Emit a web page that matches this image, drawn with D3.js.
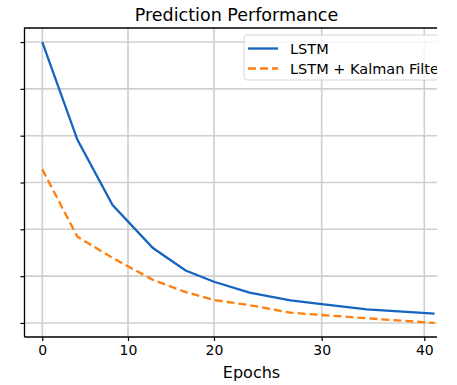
<!DOCTYPE html>
<meta charset="utf-8">
<style>
body { margin: 0; background: #fff; }
text { font-family: "DejaVu Sans", sans-serif; fill: #000; }
.grid line { stroke: #cfcfcf; stroke-width: 1.6px; }
.axis path { display: none; }
.axis line { stroke: #000; stroke-width: 1.2px; }
.axis text { font-size: 14px; }
.spine { stroke: #000; stroke-width: 1.3px; fill: none; }
.line { fill: none; stroke-width: 2.3px; }
</style>
<svg class="chart" width="457" height="385"></svg>
<script src="https://cdn.jsdelivr.net/npm/d3@7"></script>
<script>
// data (y in tick units, ticks unlabeled)
var epochs = [0, 4.1, 8.2, 12.9, 16.7, 20, 23.3, 27.1, 30, 34.4, 41];
var lstm   = [6.0, 3.91, 2.52, 1.60, 1.12, 0.88, 0.65, 0.48, 0.40, 0.29, 0.20];
var kalman = [3.28, 1.84, 1.39, 0.92, 0.66, 0.49, 0.38, 0.22, 0.17, 0.10, 0.0];
var xTicks = [0, 10, 20, 30, 40];
var yTicks = [0, 1, 2, 3, 4, 5, 6];
var seriesNames = ["LSTM", "LSTM + Kalman Filter"];
var colors = ["#1565c0", "#ff7f0e"];

var svg = d3.select(".chart");
var pLeft = 24.5, pRight = 437, pTop = 28, pBottom = 337;

// the grid in the picture is not evenly spaced, so map through each tick
var x = d3.scaleLinear()
    .domain([-2.08, 0, 10, 20, 30, 40, 41.2])
    .range([pLeft, 42.3, 128, 214, 321.7, 424.3, 436.6]);
var y = d3.scaleLinear().domain([-0.3, 6.3]).range([pBottom, pTop]);

svg.append("defs").append("clipPath").attr("id", "clip")
  .append("rect").attr("x", 0).attr("y", 0).attr("width", pRight).attr("height", 385);

var g = svg.append("g").attr("clip-path", "url(#clip)");

// grid
var grid = g.append("g").attr("class", "grid");
grid.selectAll(".gx").data(xTicks).enter().append("line")
    .attr("x1", d => x(d)).attr("x2", d => x(d))
    .attr("y1", pTop).attr("y2", pBottom);
grid.selectAll(".gy").data(yTicks).enter().append("line")
    .attr("x1", pLeft).attr("x2", pRight)
    .attr("y1", d => y(d)).attr("y2", d => y(d));

// axes
g.append("g")
    .attr("class", "axis")
    .attr("transform", "translate(0," + pBottom + ")")
    .call(d3.axisBottom(x).tickValues(xTicks).tickSize(4).tickPadding(4).tickFormat(d3.format("d")));

g.append("g")
    .attr("class", "axis")
    .attr("transform", "translate(" + pLeft + ",0)")
    .call(d3.axisLeft(y).tickValues(yTicks).tickSize(4).tickFormat(""));

// spines
g.append("path").attr("class", "spine")
    .attr("d", "M" + pLeft + "," + pBottom + "H" + pRight + "M" + pLeft + "," + pBottom + "V" + pTop + "H" + pRight);

// lines
var data = [lstm, kalman];
var line = d3.line()
    .x((d, i) => x(epochs[i]))
    .y(d => y(d));

g.selectAll(".line")
    .data(data)
  .enter().append("path")
    .attr("class", "line")
    .attr("stroke", (d, i) => colors[i])
    .attr("stroke-width", (d, i) => i == 1 ? 2.6 : null)
    .attr("stroke-dasharray", (d, i) => i == 1 ? "8,4" : null)
    .attr("d", line);

// legend
var lg = g.append("g").attr("transform", "translate(244,35)");
lg.append("rect")
    .attr("width", 230).attr("height", 45)
    .attr("rx", 3)
    .attr("fill", "#fff").attr("fill-opacity", 0.8)
    .attr("stroke", "#d6d6d6");
seriesNames.forEach(function(name, i) {
  var row = lg.append("g").attr("transform", "translate(0," + (13.5 + i * 20) + ")");
  row.append("line")
      .attr("x1", 4).attr("x2", 34)
      .attr("stroke", colors[i]).attr("stroke-width", i == 1 ? 2.6 : 2.3)
      .attr("stroke-dasharray", i == 1 ? "8,4" : null);
  row.append("text")
      .attr("x", 46).attr("y", 5)
      .style("font-size", "14.5px")
      .text(name);
});

// title and label
svg.append("text")
    .attr("x", 236.5).attr("y", 21)
    .attr("text-anchor", "middle")
    .style("font-size", "17.5px")
    .text("Prediction Performance");

svg.append("text")
    .attr("x", 251.5).attr("y", 378)
    .attr("text-anchor", "middle")
    .style("font-size", "16px")
    .text("Epochs");
</script>
